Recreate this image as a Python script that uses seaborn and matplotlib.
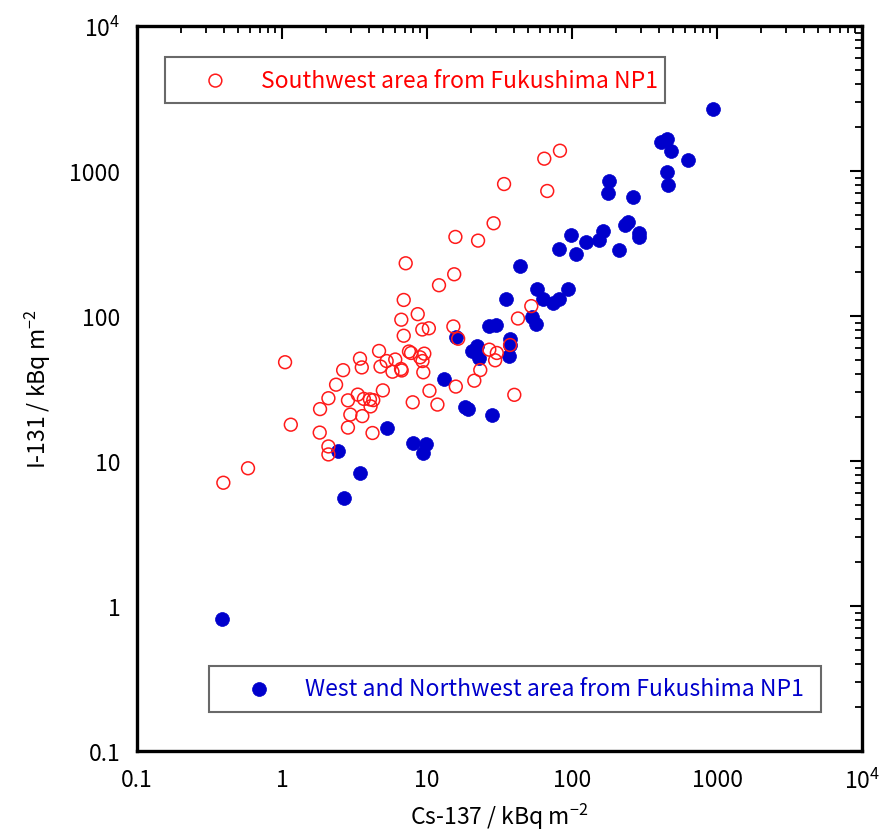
import matplotlib
matplotlib.use("Agg")
import matplotlib.pyplot as plt
import seaborn as sns
import numpy as np
import pandas as pd
from matplotlib.ticker import LogLocator, FixedLocator, NullFormatter

# Southwest area (open red circles): Cs-137, I-131 in kBq m^-2
sw_cs = [0.394, 0.583, 1.05, 1.15, 1.82, 1.83, 2.09, 2.09, 2.09, 2.36, 2.64, 2.85, 2.85,
         2.96, 3.33, 3.45, 3.55, 3.58, 3.67, 4.04, 4.26, 4.08, 4.21, 4.67, 4.78, 5.27,
         6.04, 5.78, 6.62, 6.69, 6.91, 4.96, 6.91, 7.13, 6.65, 8.63, 7.51, 7.76, 9.28,
         10.3, 8.95, 9.58, 9.31, 9.43, 7.97, 10.4, 11.8, 15.8, 15.2, 16.4, 12.1, 15.4,
         15.7, 22.5, 28.8, 34.0, 21.2, 23.3, 26.9, 29.5, 30.3, 40.0, 37.4, 42.4, 52.4,
         64.4, 67.5, 82.6]
sw_i = [7.08, 8.91, 48.0, 17.8, 15.7, 22.8, 27.1, 12.6, 11.1, 33.6, 42.3, 26.2, 17.0,
        20.9, 28.7, 50.8, 44.2, 20.4, 26.8, 26.6, 26.3, 23.8, 15.6, 57.4, 44.8, 48.9,
        50.1, 41.3, 43.1, 42.1, 73.1, 30.7, 129, 231, 94.3, 103, 56.9, 55.6, 80.7,
        82.3, 51.9, 55.0, 48.9, 40.9, 25.4, 30.5, 24.5, 32.6, 84.7, 69.7, 163, 194,
        351, 331, 436, 813, 35.8, 42.4, 58.6, 49.5, 55.6, 28.6, 63.1, 96.1, 117,
        1216, 728, 1380]

# West and Northwest area (filled blue circles)
nw_cs = [0.386, 2.44, 3.47, 2.69, 5.34, 8.03, 9.80, 9.34, 13.0, 15.8, 18.2, 19.3, 28.1,
         20.3, 22.0, 22.7, 26.9, 30.1, 35.1, 37.4, 37.2, 36.5, 43.6, 52.6, 56.2, 57.4,
         63.3, 74.3, 81.3, 81.3, 94.3, 98.4, 107, 124, 154, 163, 210, 232, 245, 288,
         290, 265, 178, 181, 450, 459, 634, 411, 450, 480, 943]
nw_i = [0.813, 11.7, 8.33, 5.56, 17.0, 13.3, 13.0, 11.3, 36.9, 71.6, 23.5, 22.9, 20.8,
        57.1, 62.4, 51.6, 84.9, 87.0, 130, 68.9, 63.1, 52.7, 220, 99.2, 88.4, 153,
        130, 122, 130, 292, 154, 364, 268, 325, 336, 384, 284, 424, 447, 374,
        352, 659, 702, 849, 979, 805, 1191, 1578, 1663, 1380, 2677]

sw_label = "Southwest area from Fukushima NP1"
nw_label = "West and Northwest area from Fukushima NP1"
tick_vals = [0.1, 1, 10, 100, 1000, 10000]
tick_labels = ["0.1", "1", "10", "100", "1000", r"$10^4$"]
x_label = r"Cs-137 / kBq m$^{-2}$"
y_label = r"I-131 / kBq m$^{-2}$"

sns.set_style("white")
plt.rcParams['font.family'] = ['Noto Sans CJK JP', 'DejaVu Sans']
plt.rcParams['mathtext.fontset'] = 'custom'
plt.rcParams['mathtext.rm'] = 'Noto Sans CJK JP'
plt.rcParams['mathtext.it'] = 'Noto Sans CJK JP'
plt.rcParams['mathtext.bf'] = 'Noto Sans CJK JP'
plt.rcParams['text.color'] = 'black'
plt.rcParams['axes.labelcolor'] = 'black'
plt.rcParams['xtick.color'] = 'black'
plt.rcParams['ytick.color'] = 'black'

RED = "#FF1A1A"
BLUE = "#0000CC"

fig = plt.figure(figsize=(8.85, 8.37), dpi=100)
ax = fig.add_axes([137/885, (837-752)/837, 725/885, 725/837])

df_sw = pd.DataFrame({"cs": sw_cs, "i": sw_i})
df_nw = pd.DataFrame({"cs": nw_cs, "i": nw_i})

sns.scatterplot(data=df_sw, x="cs", y="i", ax=ax, marker="o", s=85,
                facecolor="none", edgecolor=RED, linewidth=1.1, label=sw_label, zorder=3)
sns.scatterplot(data=df_nw, x="cs", y="i", ax=ax, marker="o", s=100,
                color=BLUE, edgecolor=BLUE, linewidth=0.5, label=nw_label, zorder=2)

ax.set_xscale("log")
ax.set_yscale("log")
ax.set_xlim(0.1, 10000)
ax.set_ylim(0.1, 10000)

for axis in (ax.xaxis, ax.yaxis):
    axis.set_major_locator(FixedLocator(tick_vals))
    axis.set_minor_locator(LogLocator(base=10, subs=np.arange(2, 10), numticks=20))
    axis.set_minor_formatter(NullFormatter())
ax.set_xticks(tick_vals)
ax.set_xticklabels(tick_labels)
ax.set_yticks(tick_vals)
ax.set_yticklabels(tick_labels)

ax.tick_params(which="both", direction="in", top=True, right=True, color="black",
               labelcolor="black")
ax.tick_params(which="major", length=9, width=1.5, labelsize=16.5, pad=12)
ax.tick_params(which="minor", length=5, width=1.3)
for sp in ax.spines.values():
    sp.set_linewidth(2.4)
    sp.set_color("black")

ax.set_xlabel(x_label, fontsize=16.5, labelpad=6, color="black")
ax.set_ylabel(y_label, fontsize=16.5, labelpad=12, color="black")

handles, labels = ax.get_legend_handles_labels()
if ax.get_legend():
    ax.get_legend().remove()

leg1 = ax.legend([handles[0]], [labels[0]], loc="upper left",
                 bbox_to_anchor=(0.0386, 0.892, 0.690, 0.065), mode="expand",
                 fancybox=False, frameon=True, fontsize=16.5, borderpad=0.5,
                 handlelength=3.4, handletextpad=0.3, borderaxespad=0)
for t in leg1.get_texts():
    t.set_color("red")
leg1.get_frame().set_edgecolor("#444444")
leg1.get_frame().set_linewidth(1.5)
ax.add_artist(leg1)

leg2 = ax.legend([handles[1]], [labels[1]], loc="upper left",
                 bbox_to_anchor=(0.0993, 0.0524, 0.844, 0.0648), mode="expand",
                 fancybox=False, frameon=True, fontsize=16.5, borderpad=0.5,
                 handlelength=3.4, handletextpad=0.3, borderaxespad=0)
for t in leg2.get_texts():
    t.set_color(BLUE)
leg2.get_frame().set_edgecolor("#444444")
leg2.get_frame().set_linewidth(1.5)

fig.savefig("out.png", dpi=100, facecolor="white")
